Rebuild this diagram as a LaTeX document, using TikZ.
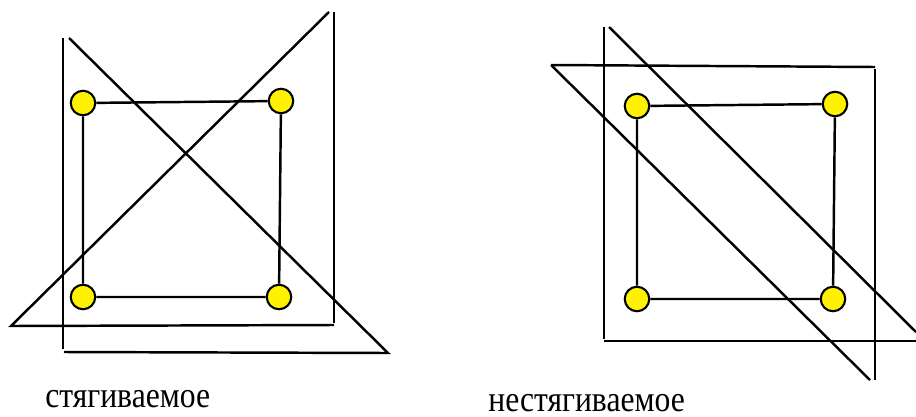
\documentclass[tikz,border=0pt]{standalone}
\usepackage{fontspec}
\setmainfont{Liberation Serif}
\usepackage{tikz}
\usetikzlibrary{positioning,calc}

\newcommand{\tallword}[1]{\scalebox{1}[1.15]{#1}}

\begin{document}
\begin{tikzpicture}[x=0.02cm, y=-0.02cm,
  vert/.style={circle, draw, line width=1.2pt, fill=yellow, minimum size=4.9mm, inner sep=0pt},
  side/.style={line width=1.4pt},
  cut/.style={line width=1.4pt},
  lab/.style={font=\fontsize{18}{20}\selectfont, inner sep=0pt}]
  \useasboundingbox (0,0) rectangle (916,416);
  % contractible: two crossing triangles
  \draw[cut] (63,38) -- (63,349);
  \draw[cut] (69,38) -- (388,353) -- (64,352);
  \draw[cut] (334,12) -- (334,323);
  \draw[cut] (329,12) -- (11,326) -- (334,325);
  \node[vert] (a1) at (83,103) {};
  \node[vert] (a2) at (281,101) {};
  \node[vert] (a3) at (279,297) {};
  \node[vert] (a4) at (83,297) {};
  \draw[side] (a1) -- (a2) -- (a3) -- (a4) -- (a1);
  \node[lab, anchor=base west] (l1) at (45,407) {\tallword{стягиваемое}};
  % non-contractible: two parallel triangles
  \draw[cut] (604,27) -- (604,339);
  \draw[cut] (609,27) -- (916,332);
  \draw[cut] (604,341) -- (916,341);
  \draw[cut] (551,65) -- (875,67);
  \draw[cut] (875,69) -- (875,380);
  \draw[cut] (551,65) -- (870,380);
  \node[vert] (b1) at (637,106) {};
  \node[vert] (b2) at (835,104) {};
  \node[vert] (b3) at (833,299) {};
  \node[vert] (b4) at (637,299) {};
  \draw[side] (b1) -- (b2) -- (b3) -- (b4) -- (b1);
  \node[lab, anchor=base west] (l2) at (488,411) {\tallword{нестягиваемое}};
\end{tikzpicture}
\end{document}
